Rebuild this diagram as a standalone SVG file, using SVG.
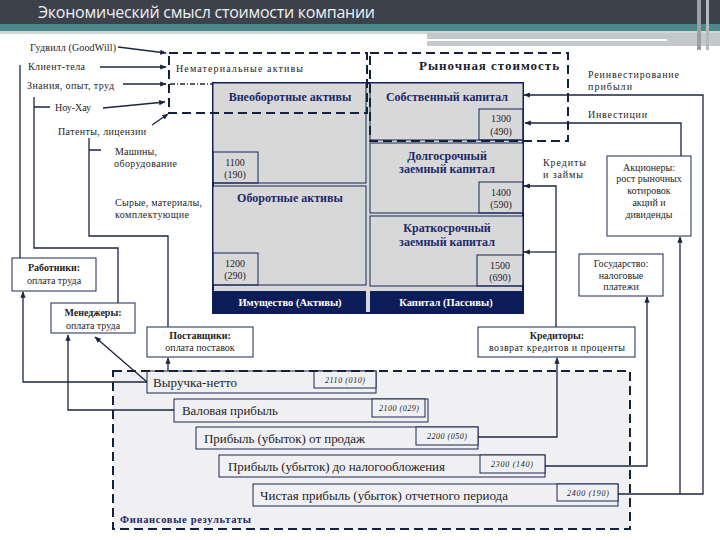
<svg xmlns="http://www.w3.org/2000/svg" width="720" height="540" viewBox="0 0 720 540">
<defs>
<marker id="ah" viewBox="0 0 10 10" refX="9" refY="5" markerWidth="5" markerHeight="5" orient="auto"><path d="M0,1 L10,5 L0,9 z" fill="#1c2440"/></marker>
</defs>
<style>
.lbl{font-family:"Liberation Serif",serif;font-size:10px;fill:#1e1e1e}
.lc{font-family:"Liberation Serif",serif;font-size:10px;fill:#1e1e1e;text-anchor:middle}
.lb{font-weight:bold}
.ttl{font-family:"Liberation Serif",serif;font-size:12px;font-weight:bold;fill:#1b2a6b;text-anchor:middle}
.num{font-family:"Liberation Serif",serif;font-size:10px;fill:#1e1e2e;text-anchor:middle}
.band{fill:#0c1c58}
.bt{font-family:"Liberation Serif",serif;font-size:10.5px;font-weight:bold;fill:#ffffff;text-anchor:middle}
.sec{fill:#d8d8d8;stroke:#13245e;stroke-width:1}
.nb{fill:none;stroke:#13245e;stroke-width:1}
.dash{fill:none;stroke:#14213d;stroke-width:2;stroke-dasharray:9 5}
.row{fill:#f0f0f2;stroke:#1b2650;stroke-width:1}
.rt{font-family:"Liberation Serif",serif;font-size:13px;fill:#1e1e1e}
.code{font-family:"Liberation Serif",serif;font-size:8px;font-style:italic;fill:#222;text-anchor:middle}
.box{fill:#ffffff;stroke:#1b2650;stroke-width:1}
.cn{fill:none;stroke:#1c2440;stroke-width:1.3}
.ar{marker-end:url(#ah)}
</style>
<rect width="720" height="540" fill="#ffffff"/>
<g id="header">
<rect x="0" y="0" width="720" height="24" fill="#3d414c"/>
<rect x="0" y="24" width="720" height="7" fill="#4b878b"/>
<rect x="0" y="31" width="720" height="3" fill="#cfd6d7"/>
<rect x="427" y="33" width="293" height="13" fill="#c3c8ca"/>
<rect x="427" y="39" width="240" height="2" fill="#ffffff"/>
<rect x="697" y="0" width="4" height="50" fill="#9ba0a6"/>
<rect x="706" y="0" width="3" height="50" fill="#b5b9bd"/>
<text x="38" y="18" font-family="Open Sans, sans-serif" font-size="16" fill="#eef0f0" textLength="337">Экономический смысл стоимости компании</text>
</g>

<g id="fin-results">
<rect x="113" y="371" width="517" height="158" fill="#f0f0f2"/>
</g>

<g id="balance">
<rect x="213" y="83" width="310" height="230" fill="#d8d8d8" stroke="#0c1c58" stroke-width="2"/>
<rect class="sec" x="213" y="83" width="153" height="100"/>
<rect class="sec" x="213" y="186" width="153" height="99"/>
<rect class="sec" x="370" y="83" width="153" height="57"/>
<rect class="sec" x="370" y="143" width="153" height="70"/>
<rect class="sec" x="370" y="216" width="153" height="70"/>
<rect class="band" x="213" y="291" width="153" height="21"/>
<rect class="band" x="370" y="291" width="153" height="21"/>
<text class="ttl" x="290" y="101">Внеоборотные активы</text>
<text class="ttl" x="290" y="202">Оборотные активы</text>
<text class="ttl" x="447" y="101">Собственный капитал</text>
<text class="ttl" x="447" y="160">Долгосрочный</text>
<text class="ttl" x="447" y="173">заемный капитал</text>
<text class="ttl" x="447" y="232">Краткосрочный</text>
<text class="ttl" x="447" y="246">заемный капитал</text>
<text class="bt" x="290" y="306">Имущество (Активы)</text>
<text class="bt" x="446" y="306">Капитал (Пассивы)</text>
</g>

<g id="n1100"><rect class="nb" x="213" y="152" width="45" height="31"/><text class="num" x="235" y="166">1100</text><text class="num" x="235" y="178">(190)</text></g>
<g id="n1200"><rect class="nb" x="213" y="253" width="45" height="32"/><text class="num" x="235" y="267">1200</text><text class="num" x="235" y="279">(290)</text></g>
<g id="n1300"><rect class="nb" x="479" y="109" width="44" height="31"/><text class="num" x="501" y="122">1300</text><text class="num" x="501" y="135">(490)</text></g>
<g id="n1400"><rect class="nb" x="479" y="182" width="44" height="31"/><text class="num" x="501" y="196">1400</text><text class="num" x="501" y="208">(590)</text></g>
<g id="n1500"><rect class="nb" x="477" y="255" width="46" height="31"/><text class="num" x="500" y="269">1500</text><text class="num" x="500" y="281">(690)</text></g>

<g id="intangible">
<rect class="dash" x="169" y="53" width="198" height="60"/>
<text class="lbl" x="176" y="72" textLength="127">Нематериальные активы</text>
</g>
<g id="market-value">
<rect class="dash" x="370" y="53" width="198" height="88"/>
<text x="419" y="70" font-family="Liberation Serif, serif" font-size="13" font-weight="bold" fill="#1a1d2e" textLength="140">Рыночная стоимость</text>
</g>

<g id="left-labels">
<text class="lbl" x="30" y="51" textLength="86">Гудвилл (GoodWill)</text>
<text class="lbl" x="28" y="70" textLength="57">Клиент-тела</text>
<text class="lbl" x="27" y="89" textLength="87">Знания, опыт, труд</text>
<text class="lbl" x="55" y="111" textLength="36">Ноу-Хау</text>
<text class="lbl" x="58" y="135" textLength="88">Патенты, лицензии</text>
<text class="lbl" x="115" y="155" textLength="42">Машины,</text>
<text class="lbl" x="114" y="167" textLength="63">оборудование</text>
<text class="lbl" x="115" y="206" textLength="87">Сырые, материалы,</text>
<text class="lbl" x="115" y="218" textLength="74">комплектующие</text>
</g>

<g id="right-labels">
<text class="lbl" x="588" y="78" textLength="91">Реинвестирование</text>
<text class="lbl" x="588" y="90" textLength="44">прибыли</text>
<text class="lbl" x="588" y="118" textLength="59">Инвестиции</text>
<text class="lbl" x="543" y="166" textLength="43">Кредиты</text>
<text class="lbl" x="543" y="178" textLength="40">и займы</text>
</g>

<g id="workers"><rect class="box" x="12" y="258" width="84" height="33"/><text class="lc lb" x="54" y="271">Работники:</text><text class="lc" x="54" y="284">оплата труда</text></g>
<g id="managers"><rect class="box" x="51" y="303" width="84" height="30"/><text class="lc lb" x="93" y="316">Менеджеры:</text><text class="lc" x="93" y="329">оплата труда</text></g>
<g id="suppliers"><rect class="box" x="147" y="327" width="106" height="30"/><text class="lc lb" x="200" y="339">Поставщики:</text><text class="lc" x="200" y="351">оплата поставок</text></g>
<g id="creditors"><rect class="box" x="478" y="327" width="157" height="30"/><text class="lc lb" x="557" y="339">Кредиторы:</text><text class="lc" x="557" y="351" textLength="136">возврат кредитов и проценты</text></g>
<g id="state"><rect class="box" x="579" y="254" width="84" height="42"/><text class="lc" x="621" y="267">Государство:</text><text class="lc" x="621" y="279">налоговые</text><text class="lc" x="621" y="290">платежи</text></g>
<g id="shareholders"><rect class="box" x="607" y="156" width="84" height="80"/><text class="lc" x="649" y="171">Акционеры:</text><text class="lc" x="649" y="182">рост рыночных</text><text class="lc" x="649" y="194">котировок</text><text class="lc" x="649" y="206">акций и</text><text class="lc" x="649" y="218">дивиденды</text></g>

<g id="rows">
<g id="r2110"><rect class="row" x="147" y="371" width="229" height="22"/><rect class="row" x="314" y="371" width="62" height="17"/><text class="rt" x="153" y="387" textLength="84">Выручка-нетто</text><text class="code" x="345" y="383" textLength="40">2110 (010)</text></g>
<g id="r2100"><rect class="row" x="174" y="399" width="254" height="23"/><rect class="row" x="372" y="399" width="53" height="18"/><text class="rt" x="182" y="415" textLength="96">Валовая прибыль</text><text class="code" x="399" y="411" textLength="40">2100 (029)</text></g>
<g id="r2200"><rect class="row" x="196" y="427" width="282" height="22"/><rect class="row" x="416" y="427" width="62" height="18"/><text class="rt" x="204" y="443" textLength="161">Прибыль (убыток) от продаж</text><text class="code" x="447" y="439" textLength="40">2200 (050)</text></g>
<g id="r2300"><rect class="row" x="219" y="455" width="326" height="22"/><rect class="row" x="480" y="455" width="65" height="18"/><text class="rt" x="228" y="471" textLength="217">Прибыль (убыток) до налогообложения</text><text class="code" x="512" y="467" textLength="42">2300 (140)</text></g>
<g id="r2400"><rect class="row" x="253" y="484" width="365" height="22"/><rect class="row" x="557" y="484" width="61" height="17"/><text class="rt" x="260" y="500" textLength="248">Чистая прибыль (убыток) отчетного периода</text><text class="code" x="588" y="496" textLength="42">2400 (190)</text></g>
</g>

<g id="fin-frame">
<rect class="dash" x="113" y="371" width="517" height="158"/>
<text x="120" y="523" font-family="Liberation Serif, serif" font-size="10.5" font-weight="bold" fill="#1b2a6b" textLength="131">Финансовые результаты</text>
</g>

<g id="connectors">
<path class="cn ar" d="M118,47 L166,53"/>
<path class="cn ar" d="M100,67 L166,67"/>
<path class="cn ar" d="M123,84 L166,84"/>
<path class="cn" d="M170,84 L213,84" stroke-dasharray="5 2 1 2"/>
<path class="cn ar" d="M103,108 L165,102"/>
<path class="cn ar" d="M152,125 L168,114"/>
<path class="cn" d="M20,65 V258"/>
<path class="cn" d="M34,97 V248 H118 V303 M34,107 H50"/>
<path class="cn" d="M89,138 V236 H168 V327 M89,150 H101"/>
<path class="cn ar" d="M147,382 H23 V292"/>
<path class="cn ar" d="M174,410 H68 V335"/>
<path class="cn ar" d="M147,382 L95,337"/>
<path class="cn ar" d="M168,371 V358"/>
<path class="cn ar" d="M478,437 H557 V358"/>
<path class="cn ar" d="M545,466 H647 V297"/>
<path class="cn ar" d="M618,494 H703 V95 H524"/>
<path class="cn ar" d="M680,494 V237"/>
<path class="cn ar" d="M681,156 V123 H525"/>
<path class="cn ar" d="M556,327 V186 H524"/>
<path class="cn ar" d="M556,252 H524"/>
</g>
</svg>
